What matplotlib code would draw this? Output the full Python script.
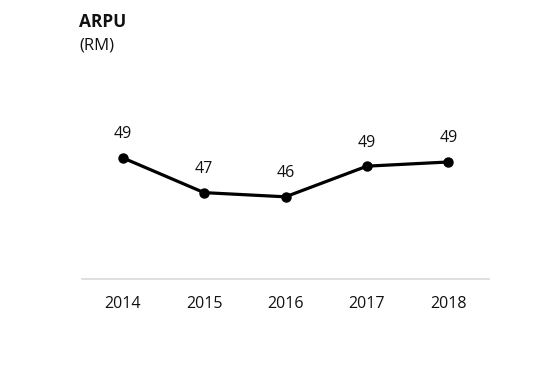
import matplotlib.pyplot as plt

plt.rcParams['font.family'] = ['Open Sans', 'DejaVu Sans']

anos = ['2014', '2015', '2016', '2017', '2018']
arpu = [49.2, 46.7, 46.4, 48.6, 48.9]
rotulos = ['49', '47', '46', '49', '49']

fig = plt.figure(figsize=(5.44, 3.76), dpi=100)
ax = fig.add_axes([82 / 544, 97 / 376, 407 / 544, 179 / 376])

x = range(len(anos))
ax.plot(x, arpu, color='black', linewidth=2.3, marker='o', markersize=6.5)
for xi, v, r in zip(x, arpu, rotulos):
    ax.annotate(r, (xi, v), xytext=(0, 17), textcoords='offset points',
                ha='center', va='center', fontsize=11.5, color='#111111')

ax.set_xlim(-0.5, 4.5)
ax.set_ylim(40.5, 53.35)
ax.set_xticks(list(x))
ax.set_xticklabels(anos, fontsize=11.5, color='#111111')
ax.set_yticks([])
ax.tick_params(axis='x', length=0, pad=12)
for lado in ['top', 'right', 'left']:
    ax.spines[lado].set_visible(False)
ax.spines['bottom'].set_color('#d9d9d9')
ax.spines['bottom'].set_linewidth(1.2)

fig.text(79 / 544, 1 - 22 / 376, 'ARPU', fontsize=12.5, fontweight='bold',
         va='center', ha='left', color='#111111')
fig.text(79 / 544, 1 - 46 / 376, '(RM)', fontsize=12, va='center', ha='left',
         color='#111111')

fig.savefig('out.png', dpi=100)
